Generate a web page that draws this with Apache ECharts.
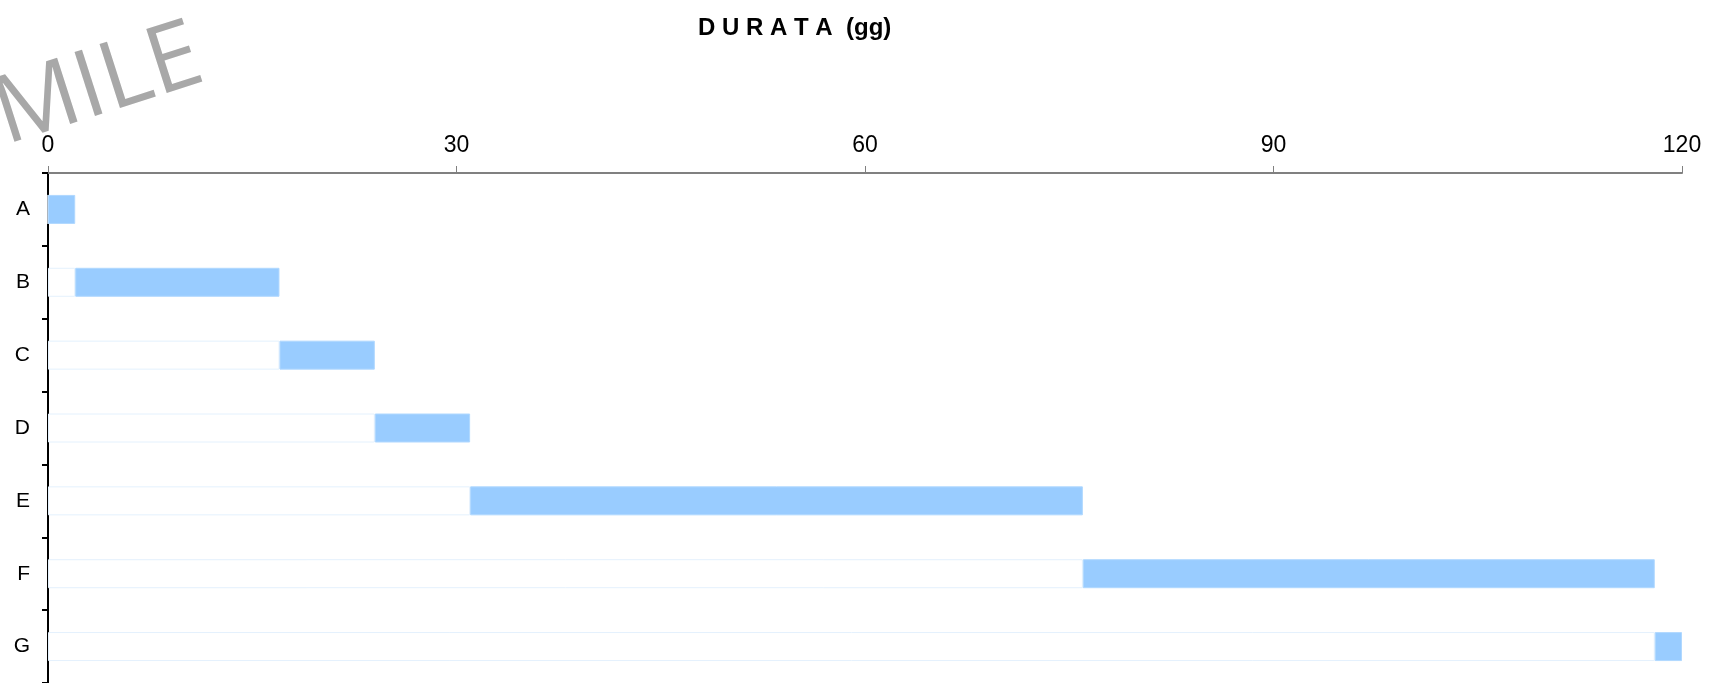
<!DOCTYPE html>
<html>
<head>
<meta charset="utf-8">
<style>
  html, body { margin: 0; padding: 0; background: #fff; }
  #chart { width: 1736px; height: 683px; }
</style>
<script src="https://cdn.jsdelivr.net/npm/echarts@6/dist/echarts.min.js"></script>
</head>
<body>
<div id="chart"></div>
<script>
// attività (categorie), giorno di inizio e durata in giorni
var categories = ['A', 'B', 'C', 'D', 'E', 'F', 'G'];
var startDays = [0, 2, 17, 24, 31, 76, 118];
var durationDays = [2, 15, 7, 7, 45, 42, 2];
var xTicks = [0, 30, 60, 90, 120];

var myChart = echarts.init(document.getElementById('chart'));

var option = {
    backgroundColor: '#fff',
    animation: false,
    title: {
        text: 'D U R A T A  (gg)',
        left: 693,
        top: 11,
        textStyle: {
            fontFamily: 'Liberation Sans',
            fontSize: 24,
            fontWeight: 'bold',
            color: '#000'
        }
    },
    graphic: [{
        type: 'text',
        x: 214,
        y: 99,
        rotation: 0.31,
        silent: true,
        style: {
            text: 'SIMILE',
            fontFamily: 'Open Sans',
            fontSize: 94,
            fill: '#a8a8a8',
            align: 'right',
            verticalAlign: 'bottom'
        }
    }],
    grid: {
        left: 48,
        right: 54,
        top: 173,
        bottom: -8,
        containLabel: false
    },
    xAxis: {
        type: 'value',
        position: 'top',
        min: xTicks[0],
        max: xTicks[xTicks.length - 1],
        interval: xTicks[1] - xTicks[0],
        axisLine: { show: true, lineStyle: { color: '#808080', width: 2 } },
        axisTick: { show: true, length: 7, lineStyle: { color: '#808080', width: 1 } },
        splitLine: { show: false },
        axisLabel: {
            margin: 16,
            fontFamily: 'Liberation Sans',
            fontSize: 23,
            color: '#000'
        }
    },
    yAxis: {
        type: 'category',
        data: categories,
        inverse: true,
        axisLine: { show: true, lineStyle: { color: '#000', width: 2 } },
        axisTick: { show: true, length: 6, lineStyle: { color: '#000', width: 2 } },
        splitLine: { show: false },
        axisLabel: {
            margin: 18,
            fontFamily: 'Liberation Sans',
            fontSize: 21,
            color: '#000'
        }
    },
    series: [{
        name: 'inizio',
        type: 'bar',
        stack: 'gantt',
        data: startDays,
        barWidth: 29,
        itemStyle: {
            color: '#fff',
            borderColor: '#e4f1fd',
            borderWidth: 1
        },
        emphasis: { disabled: true }
    }, {
        name: 'durata',
        type: 'bar',
        stack: 'gantt',
        data: durationDays,
        barWidth: 29,
        itemStyle: {
            color: '#99ccff',
            borderColor: '#b0d8ff',
            borderWidth: 1
        }
    }]
};

myChart.setOption(option);
</script>
</body>
</html>
